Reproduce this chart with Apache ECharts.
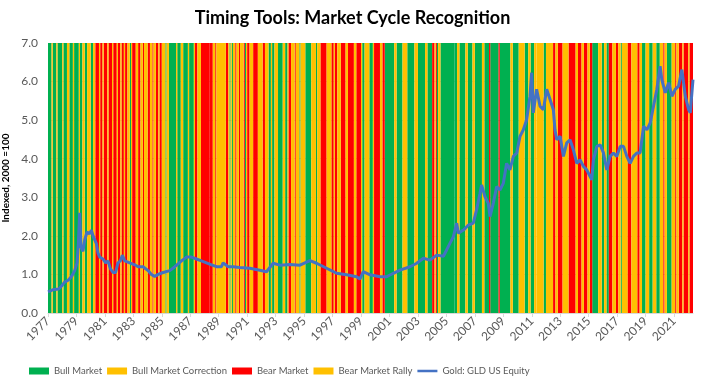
<!DOCTYPE html>
<html><head><meta charset="utf-8">
<script src="https://cdn.jsdelivr.net/npm/echarts@6/dist/echarts.min.js"></script>
<style>html,body{margin:0;padding:0;background:#fff}#c{width:705px;height:388px}</style>
</head><body><div id="c"></div>
<script>
// ---------- data ----------
const startYear = 1977;          // first month = Jan 1977
const lastMonth = 544;           // months shown on the x axis
const regimeNames = ['Bull Market','Bull Market Correction','Bear Market','Bear Market Rally'];
const regimeColors = ['#00B050','#FFC000','#FF0000','#FFC000'];
// monthly regime runs: B=bull, C=bull correction, R=bear, Y=bear rally, number = months
const regimeRuns = [
 'B3','C1','B3','C1','B4','C1','B3','C2','B3','C1','B4','C1','B2','C2','B2','C3','B2','C2',
 'R3','Y1','R2','Y1','R3','Y1','R3','Y1','R3','Y1','R2','Y1','R2','Y1','R2',
 'Y2','B1','C1','R3','Y2','R2','Y2','R1','Y3','R2','Y2','R1','Y2','R2','Y1','R2','Y3','B1','C2','B6','C1','B3','C2','B4','C1','B4','C1','R2','Y3','R7',
 'R3','Y2','R1','Y8','R2','Y1','B1','C1','B1','C2','R1','Y2','R1','Y3','R1','B1','C1','R2','Y3','R4','Y4','R2','Y3','B2','C1','B2','C3','B4','C2','B2','C1','R2',
 'Y3','R1','Y3','B1','C4','B5','C4','B1','C3','R5','Y4','R2','Y1','R2','Y3','R4','Y2','R5','Y2','R4','Y1','B2','C4','B3',
 'C1','R5','Y2','R2','B8','C2','B5','C4','B6','C3','B6','C2','B4','R2','Y1','R1','B1','C2','B12',
 'B2','C2','B5','C2','B4','C2','B6','C2','B4','R1','B7','R1','B9','C2','B5','C5','B3','C2','B3','C2',
 'C6','B2','C6','R2','Y2','R4','Y5','R6','Y2','R3','Y2','R3','Y2','R2','B5','C3','B2','C2','B2','R3','Y3','R2',
 'Y2','B1','C5','R3','Y5','R2','Y2','B3','C3','B3','C3','B3','C3','R1','Y2','B4','C3','R1','Y2','R3','Y1','R4','Y1','R3'
];
const goldName = 'Gold: GLD US Equity';
// month index since Jan 1977
const goldMonth = [0,4,9,11.5,14,17,20,22.5,24.5,25.6,26.7,27.8,29.5,31,32.9,35,36.6,38,40.8,42.2,43.6,46.4,48.6,50.6,52.6,54.8,57,59,61,62.7,64.7,68.9,73.1,76,80.2,84.4,87.2,90,92.9,97.1,102.7,107,112.6,116.8,121,122.4,125.2,129.4,133.7,137.9,142.1,146.3,147.7,152,156.2,
 161.8,170.2,178.7,184.3,189.9,195.6,204,212.5,220.9,226.5,235,243.4,251.8,260.3,263.1,265.9,271.6,280,285.6,291.3,296.9,305.3,311,316.6,322.2,327.8,333.5,339.1,341.9,344.7,346.1,350.4,354.6,
 358.7,361.5,364.3,365.7,368.5,371.3,372.8,375.6,378.4,381.2,384,386.8,389.6,392.5,395.3,398.1,400.9,403.7,406.5,407.9,409.3,412.1,415,417.8,420.6,423.4,426.2,427.6,429.1,431.9,434.7,437.5,440.3,443.1,446,448.8,451.6,454.4,457.2,458.6,460,462.9,465.7,468.5,471.3,474.1,476.9,479.7,482.6,485.4,488.2,491,493.8,496.6,499.4,502.3,505.1,507.9,510.7,513.5,516.3,517.7,520.6,523.4,526.2,529,531.8,534.6,537.5,540.3,541.7,544];
const goldValue = [0.55,0.60,0.62,0.70,0.80,0.85,0.95,1.10,1.30,1.80,2.60,1.70,1.60,1.90,2.10,2.05,2.15,2.00,1.80,1.55,1.45,1.40,1.30,1.35,1.15,1.05,1.05,1.30,1.35,1.50,1.35,1.30,1.25,1.20,1.20,1.10,1.00,0.95,1.00,1.05,1.10,1.20,1.35,1.45,1.45,1.50,1.40,1.35,1.30,1.25,1.20,1.20,1.30,1.20,1.20,
 1.18,1.16,1.11,1.07,1.29,1.24,1.26,1.24,1.36,1.29,1.16,1.03,0.99,0.94,0.88,1.07,0.99,0.94,0.94,1.03,1.11,1.20,1.29,1.42,1.37,1.50,1.47,1.81,1.98,2.33,2.07,2.15,2.28,
 2.33,2.68,3.10,3.32,3.02,2.85,2.50,2.85,3.28,3.19,3.36,3.88,3.71,4.06,4.15,4.58,4.75,5.01,5.62,6.23,5.19,5.80,5.36,5.27,5.80,5.54,5.27,4.75,4.49,4.58,4.06,4.41,4.49,4.23,3.88,3.97,3.80,3.71,3.54,3.45,3.97,4.32,4.36,4.15,3.71,4.06,4.15,4.06,4.32,4.32,4.06,3.88,4.06,4.15,4.15,4.84,4.75,4.93,5.36,5.80,6.40,6.05,5.71,5.97,5.62,5.80,5.88,6.31,5.62,5.27,5.19,6.05];

// ---------- build ----------
const font = 'Lato, "Open Sans", sans-serif';
const codeIdx = {B:0, C:1, R:2, Y:3};
const areas = [[],[],[],[]];
let m = 0;
regimeRuns.forEach(r => {
  const k = codeIdx[r[0]], n = +r.slice(1);
  areas[k].push([{xAxis: m}, {xAxis: m + n}]);
  m += n;
});
const chart = echarts.init(document.getElementById('c'));
chart.setOption({
  animation: false,
  textStyle: {fontFamily: font},
  title: {text: 'Timing Tools: Market Cycle Recognition', left: 'center', top: 4,
    textStyle: {fontFamily: font, fontSize: 18, fontWeight: 'bold', color: '#000'}},
  grid: {left: 48, right: 12, top: 43, bottom: 75, containLabel: false, outerBoundsMode: 'none'},
  legend: {
    left: 24, top: 361, itemWidth: 20, itemHeight: 7, itemGap: 5,
    textStyle: {fontFamily: font, fontSize: 9.5, color: '#595959'},
    data: regimeNames.map(n => ({name: n, icon: 'rect'})).concat([{
      name: goldName,
      icon: 'path://M0,0 L0.01,0 L0.01,0.01 Z M0,2 L22,2 L22,5 L0,5 Z M0,7 L0.01,7 L0.01,6.99 Z'
    }])
  },
  xAxis: {
    type: 'value', min: 0, max: lastMonth, interval: 24,
    axisLine: {show: true, lineStyle: {color: '#d9d9d9'}},
    axisTick: {show: true, length: 4, lineStyle: {color: '#d9d9d9'}},
    splitLine: {show: false},
    axisLabel: {rotate: 45, margin: 6, color: '#595959', fontSize: 12, fontFamily: font,
      showMaxLabel: false,
      formatter: v => (v % 24 === 0 ? String(startYear + v / 12) : '')}
  },
  yAxis: {
    type: 'value', min: 0, max: 7, interval: 1,
    name: 'Indexed, 2000 =100', nameLocation: 'middle', nameGap: 30, nameRotate: 90,
    nameTextStyle: {fontFamily: font, fontSize: 10, fontWeight: 'bold', color: '#000'},
    axisLine: {show: false}, axisTick: {show: false},
    splitLine: {show: true, lineStyle: {color: '#d9d9d9'}},
    axisLabel: {formatter: v => v.toFixed(1), color: '#595959', fontSize: 12, margin: 10, fontFamily: font}
  },
  series: regimeNames.map((name, i) => ({
    name, type: 'line', data: [], silent: true,
    itemStyle: {color: regimeColors[i]}, lineStyle: {color: regimeColors[i]},
    markArea: {silent: true, itemStyle: {color: regimeColors[i], opacity: 1, borderWidth: 0}, data: areas[i]}
  })).concat([{
    name: goldName, type: 'line', z: 5, showSymbol: false, symbol: 'none',
    data: goldMonth.map((x, i) => [x, goldValue[i]]),
    lineStyle: {color: '#4472C4', width: 3}, itemStyle: {color: '#4472C4'}
  }])
});
</script>
</body></html>
